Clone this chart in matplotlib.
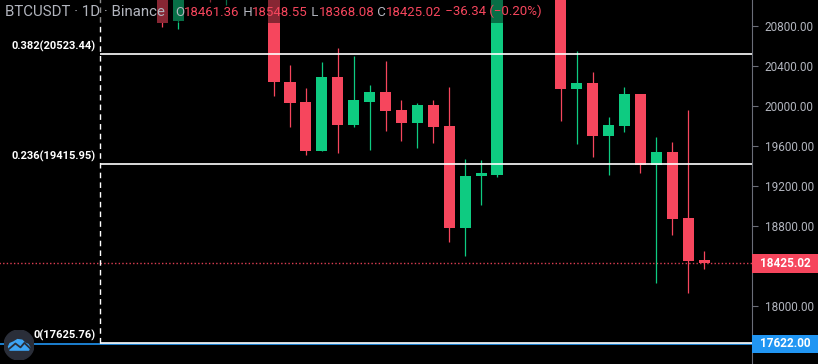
import matplotlib
matplotlib.use("Agg")
from matplotlib import pyplot as plt
from matplotlib.patches import Rectangle, Circle, Polygon
import matplotlib.transforms as mtransforms

plt.rcParams.update({"font.family": ["Roboto", "DejaVu Sans"]})

# daily candles, index 0 = first candle fully below the top edge
candle_index = list(range(-7, 28))
opens = [21250, 20853, 21200, 21350, 21150, 21500, 21800,
         21450, 20240, 20040, 19553, 20290, 19810, 20043, 20140, 19960, 19833,
         20010, 19800, 18783, 19300, 19313, 21350, 21250, 21400, 21300, 20170,
         20230, 19700, 19803, 20120, 19413, 19540, 18880, 18461.36]
highs = [21400, 21350, 21500, 21500, 21600, 21900, 21950,
         21550, 20410, 20180, 20440, 20577, 20497, 20210, 20450, 20060, 20027,
         20060, 20187, 19470, 19460, 21500, 21650, 21500, 21600, 21400, 20550,
         20337, 19890, 20187, 20120, 19687, 19640, 19960, 18548.55]
lows = [20790, 20770, 21100, 21040, 21010, 21400, 21350,
        20100, 19793, 19513, 19550, 19533, 19793, 19563, 19753, 19653, 19583,
        19633, 18643, 18503, 19013, 19293, 21100, 21080, 21150, 19850, 19617,
        19493, 19313, 19743, 19333, 18233, 18713, 18127, 18368.08]
closes = [20833, 21200, 21350, 21150, 21500, 21800, 21450,
          20240, 20033, 19553, 20290, 19810, 20060, 20140, 19953, 19833, 20010,
          19793, 18783, 19300, 19330, 21350, 21250, 21400, 21300, 20170, 20230,
          19700, 19810, 20120, 19413, 19540, 18873, 18450, 18425.02]

fib_levels = [0.382, 0.236, 0]
fib_prices = [20523.44, 19415.95, 17625.76]
hline_price = 17622.00
last_price = 18425.02
price_ticks = [18000, 18800, 19200, 19600, 20000, 20400, 20800]

symbol_text = "BTCUSDT · 1D · Binance"
ohlc_text = [("O", "18461.36"), (" H", "18548.55"), (" L", "18368.08"),
             (" C", "18425.02")]
change_text = " −36.34 (−0.20%)"

UP = "#0ecb81"
DOWN = "#f6465d"
GREY = "#b2b5be"
BLUE = "#2196f3"

W, H = 818, 364
fig = plt.figure(figsize=(W / 100, H / 100), dpi=100, facecolor="black")
ax = fig.add_axes([0, 0, 752 / W, 1])
ax.set_facecolor("black")

step = 15.93
ax.set_xlim(-274 / step, (752 - 274) / step)
ax.set_ylim(17420, 21060)

for i, o, h, l, c in zip(candle_index, opens, highs, lows, closes):
    col = UP if c >= o else DOWN
    ax.vlines(i, l, h, color=col, lw=0.9, zorder=3)
    body = max(abs(c - o), 25)
    ax.add_patch(Rectangle((i - 0.35, min(o, c)), 0.7, body, color=col,
                           lw=0, zorder=4))

# fib retracement
fib_x = (100 - 274) / step
ax.vlines(fib_x, fib_prices[-1], 21100, color="white", lw=1,
          linestyles=(0, (4, 3)), zorder=5)
for lvl, p in zip(fib_levels, fib_prices):
    ax.hlines(p, fib_x, 40, color="white", lw=1.2, zorder=5)
    ax.annotate(f"{lvl}({p:.2f})", (fib_x, p), xytext=(-3, 1.5),
                textcoords="offset points", ha="right", va="bottom",
                color="white", fontsize=8, fontweight="bold", zorder=6)

ax.hlines(hline_price, -30, 40, color=BLUE, lw=1.2, zorder=4)
ax.hlines(last_price, -30, 40, color=DOWN, lw=1,
          linestyles=(0, (1, 1.6)), alpha=0.9, zorder=2)

# legend overlay
ax.add_patch(Rectangle((0, 1 - 23 / H), 540 / 752, 23 / H,
                       transform=ax.transAxes, color="black", alpha=0.45,
                       lw=0, zorder=7))
ax.text(5 / 752, 1 - 12 / H, symbol_text, transform=ax.transAxes,
        color=GREY, fontsize=10.8, va="center", ha="left", zorder=8)
prev = None
for key, val in ohlc_text:
    if prev is None:
        k = ax.text(175 / 752, 1 - 12 / H, key, transform=ax.transAxes,
                    color=GREY, fontsize=9.5, va="center", ha="left",
                    zorder=8)
    else:
        k = ax.annotate(key, xy=(1, 0), xycoords=prev, va="bottom",
                        color=GREY, fontsize=9.5, zorder=8)
    prev = ax.annotate(val, xy=(1, 0), xycoords=k, va="bottom",
                       color=DOWN, fontsize=9.5, zorder=8)
ax.annotate(change_text, xy=(1, 0), xycoords=prev, va="bottom",
            color=DOWN, fontsize=9.5, zorder=8)

# price scale on the right
for s in ["top", "left", "bottom"]:
    ax.spines[s].set_visible(False)
ax.spines["right"].set_color("#6a6d78")
ax.spines["right"].set_linewidth(0.8)
ax.set_xticks([])
ax.yaxis.tick_right()
ax.set_yticks(price_ticks)
ax.set_yticklabels([f"{p:.2f}" for p in price_ticks])
ax.tick_params(axis="y", direction="out", length=4, width=0.8,
               color="#6a6d78", labelcolor=GREY, labelsize=8.5, pad=5)

trans = mtransforms.blended_transform_factory(ax.transAxes, ax.transData)
for price, col, hh in [(last_price, DOWN, 195), (hline_price, BLUE, 185)]:
    ax.add_patch(Rectangle((1, price - hh / 2), 66 / 752, hh, transform=trans,
                           color=col, lw=0, clip_on=False, zorder=9))
    ax.text(1 + 33 / 752, price, f"{price:.2f}", transform=trans,
            color="white", fontsize=8.5, fontweight="bold", ha="center",
            va="center", clip_on=False, zorder=10)

# logo
lax = fig.add_axes([4 / W, 4 / H, 30 / W, 30 / H])
lax.set_xlim(0, 1)
lax.set_ylim(0, 1)
lax.axis("off")
lax.add_patch(Circle((0.5, 0.5), 0.5, color="#2a2e39"))
lax.add_patch(Polygon([(0.2, 0.33), (0.82, 0.33), (0.86, 0.42), (0.8, 0.52),
                       (0.7, 0.56), (0.6, 0.66), (0.45, 0.68), (0.32, 0.6),
                       (0.2, 0.55), (0.15, 0.44)], color="#3da5f4"))
lax.plot([0.18, 0.38, 0.55, 0.68, 0.88], [0.38, 0.55, 0.42, 0.57, 0.38],
         color="#2a2e39", lw=1.3)

fig.savefig("out.png", dpi=100, facecolor="black")
